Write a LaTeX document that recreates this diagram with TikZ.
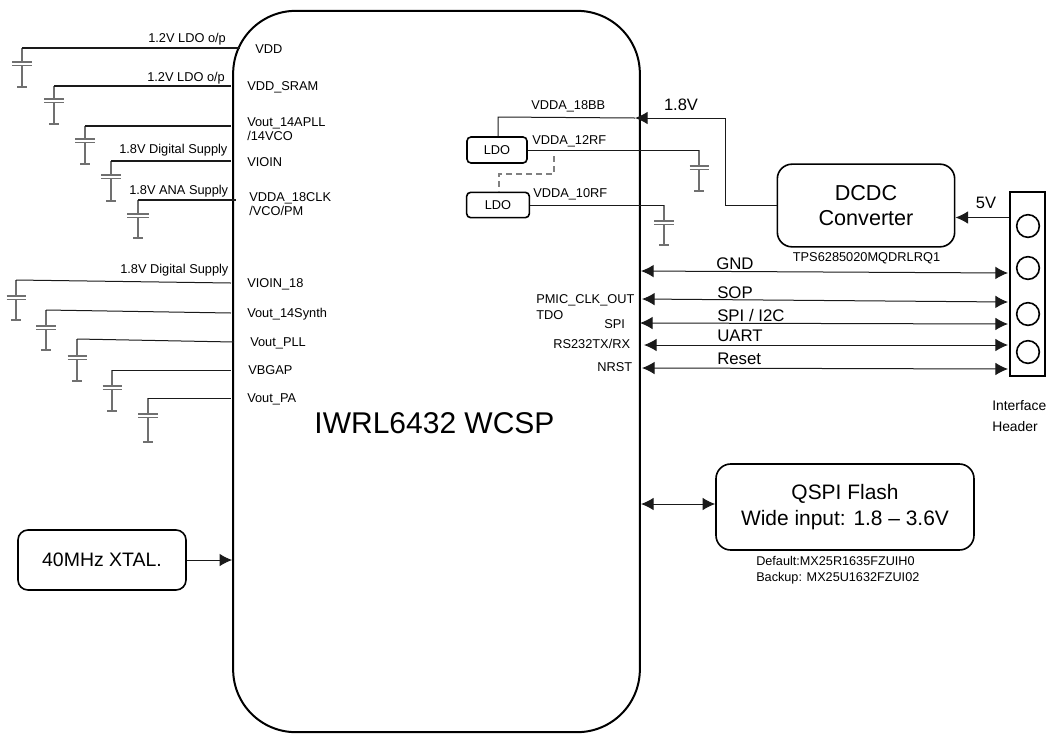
\documentclass[tikz,border=0pt]{standalone}
\usepackage{fontspec}
\setmainfont{Liberation Sans}
\usetikzlibrary{arrows.meta,calc,positioning}
\definecolor{Wire}{HTML}{1A1A1A}
\definecolor{Plate}{HTML}{707070}
\tikzset{
  wire/.style={draw=Wire, line width=0.75pt},
  heavywire/.style={draw=Wire, line width=1pt},
  link/.style={draw=Wire, line width=0.75pt, {Latex[length=9.5pt,width=9.5pt]}-{Latex[length=9.5pt,width=9.5pt]}},
  feed/.style={draw=Wire, line width=0.75pt, -{Latex[length=9.5pt,width=9.5pt]}},
  roundbox/.style={draw=black, line width=1.2pt, rounded corners=11pt, align=center, inner sep=0pt},
  ldobox/.style={draw=black, line width=1.2pt, rounded corners=3pt, font=\fontsize{9.6}{11}\selectfont, inner sep=0pt},
  pin/.style={font=\fontsize{9.6}{11}\selectfont, inner sep=0pt, anchor=west, align=left},
  buslabel/.style={font=\fontsize{12.6}{14}\selectfont, inner sep=0pt, anchor=west},
  hole/.style={circle, draw=black, line width=1.2pt, minimum size=17pt, inner sep=0pt}
}
% stem, two plates and ground of one decoupling cap: name, x, top y, plate y, ground y, half width
\newcommand{\decap}[6]{
  \coordinate (#1) at (#2,#3);
  \draw[draw=Plate, line width=0.8pt] (#2,#3) -- (#2,#4) (#2,#4+4) -- (#2,#5);
  \draw[draw=Plate, line width=1pt] (#2-#6,#4) -- (#2+#6,#4) (#2-#6,#4+3.5) -- (#2+#6,#4+3.5);
  \draw[draw=Plate, line width=0.8pt] (#2-5,#5) -- (#2+5,#5);
}
\begin{document}
\begin{tikzpicture}[>=Latex, x=0.75pt, y=-0.75pt]
    \useasboundingbox (0,0) rectangle (1047,733);
    \node[draw=black, line width=1.5pt, rounded corners=47pt, minimum width=305pt, minimum height=541pt, inner sep=0pt] (chip) at (436.5,371.5) {};
    \node[font=\fontsize{22.5}{26}\selectfont, inner sep=0pt] (chipname) at (434.5,423) {IWRL6432 WCSP};

    % supply pins on the left
    \coordinate (pinvdd) at (240,48);
    \coordinate (pinsram) at (231,86);
    \coordinate (pinapll) at (231,126);
    \coordinate (pinvioin) at (231,161);
    \coordinate (pinclk) at (236,200);
    \coordinate (pinio) at (231,283);
    \coordinate (pinsynth) at (231,313);
    \coordinate (pinpll) at (234,342);
    \coordinate (pinbg) at (231,370);
    \coordinate (pinpa) at (231,398);
    \decap{capvdd}{22}{48}{62}{87}{10}
    \decap{capsram}{54}{86}{99}{124}{10}
    \decap{capapll}{85}{126}{139}{164}{10}
    \decap{capvioin}{111}{161}{175}{201}{10}
    \decap{capclk}{138}{200}{214}{238}{11}
    \decap{capio}{16}{280}{296}{320}{9.5}
    \decap{capsynth}{46}{310}{326}{350}{10}
    \decap{cappll}{77}{339}{356}{381}{9.5}
    \decap{capbg}{112}{370}{386}{411}{9.5}
    \decap{cappa}{148}{398}{414}{442}{10}
    \draw[heavywire] (capvdd) -- (pinvdd);
    \draw[heavywire] (capsram) -- (pinsram);
    \draw[heavywire] (capapll) -- (pinapll);
    \draw[heavywire] (capvioin) -- (pinvioin);
    \draw[heavywire] (capclk) -- (pinclk);
    \draw[wire] (capio) -- (pinio);
    \draw[wire] (capsynth) -- (pinsynth);
    \draw[wire] (cappll) -- (pinpll);
    \draw[wire] (capbg) -- (pinbg);
    \draw[wire] (cappa) -- (pinpa);

    \node[pin] (lbldo1) at (148,39) {1.2V LDO o/p};
    \node[pin] (lbldo2) at (147,78) {1.2V LDO o/p};
    \node[pin] (lbdig1) at (119,150) {1.8V Digital Supply};
    \node[pin] (lbana) at (129,191) {1.8V ANA Supply};
    \node[pin] (lbdig2) at (120,270) {1.8V Digital Supply};
    \node[pin] (vdd) at (255,49) {VDD};
    \node[pin] (vddsram) at (247,87) {VDD\_SRAM};
    \node[pin] (apll) at (247,129) {Vout\_14APLL\\/14VCO};
    \node[pin] (vioin) at (247,162) {VIOIN};
    \node[pin] (clk) at (249,204) {VDDA\_18CLK\\/VCO/PM};
    \node[pin] (vioin18) at (247,284) {VIOIN\_18};
    \node[pin] (synth) at (247,314) {Vout\_14Synth};
    \node[pin] (pll) at (250,343) {Vout\_PLL};
    \node[pin] (vbgap) at (248,370) {VBGAP};
    \node[pin] (vpa) at (247,399) {Vout\_PA};

    % LDOs inside the chip
    \node[ldobox, minimum width=45pt, minimum height=19.5pt] (ldoa) at (497,150) {LDO};
    \node[ldobox, minimum width=47pt, minimum height=19pt] (ldob) at (498,205) {LDO};
    \node[pin] (lb18bb) at (531,106) {VDDA\_18BB};
    \node[pin] (lb12rf) at (532,141) {VDDA\_12RF};
    \node[pin] (lb10rf) at (533,194) {VDDA\_10RF};
    \decap{capa}{699}{150}{166}{191}{9.5}
    \decap{capb}{664}{205}{221}{245}{10}
    \draw[wire] (ldoa.east) -- (capa);
    \draw[wire] (ldob.east) -- (capb);
    \draw[draw=gray, line width=0.8pt, dash pattern=on 4.5pt off 3pt] (554,156) -- (554,174) -| (ldob.north -| 499,0);

    % DCDC and header
    \node[roundbox, minimum width=133pt, minimum height=62pt, font=\fontsize{16.2}{19}\selectfont] (dcdc) at (866,205.5) {DCDC\\Converter};
    \node[inner sep=0pt, font=\fontsize{9.6}{11}\selectfont] (tps) at (866.5,258.5) {TPS6285020MQDRLRQ1};
    \node[draw=black, line width=1.5pt, minimum width=26pt, minimum height=138pt, inner sep=0pt] (header) at (1027.5,284) {};
    \node[hole] (h1) at (1028,226) {};
    \node[hole] (h2) at (1028,268) {};
    \node[hole] (h3) at (1028,314) {};
    \node[hole] (h4) at (1028,352) {};
    \node[pin, font=\fontsize{10.4}{15.5}\selectfont] (hdrname) at (992,416) {Interface\\Header};
    \coordinate (vin) at (header.west |- 0,217.5);
    \draw[feed] (vin) -- (vin -| dcdc.east);
    \node[inner sep=0pt, font=\fontsize{12.4}{14}\selectfont] (lb5v) at (986,203) {5V};
    \coordinate (bend) at (725,118);
    \coordinate (railin) at (635,118);
    \draw[wire] (dcdc.west) -| (bend);
    \draw[feed] (bend) -- (railin);
    \draw[wire] (railin) -- (498,117) -- (ldoa.north -| 498,0);
    \node[inner sep=0pt, font=\fontsize{12.4}{14}\selectfont] (lb18) at (681,105) {1.8V};

    % buses to header
    \coordinate (gnda) at (641,271);  \coordinate (gndb) at (1008,273);
    \coordinate (sopa) at (642,299);  \coordinate (sopb) at (1008,302);
    \coordinate (spia) at (640,323);  \coordinate (spib) at (1008,324);
    \coordinate (urta) at (644,345);  \coordinate (urtb) at (1008,345);
    \coordinate (rsta) at (642,368);  \coordinate (rstb) at (1008,369);
    \draw[link] (gnda) -- (gndb);
    \draw[link] (sopa) -- (sopb);
    \draw[link] (spia) -- (spib);
    \draw[link] (urta) -- (urtb);
    \draw[link] (rsta) -- (rstb);
    \node[buslabel] (lbgnd) at (716,264) {GND};
    \node[buslabel] (lbsop) at (717,293) {SOP};
    \node[buslabel] (lbspi) at (717,315) {SPI / I2C};
    \node[buslabel] (lbuart) at (717,336) {UART};
    \node[buslabel] (lbrst) at (717,359) {Reset};
    \node[pin] (pmic) at (536,300) {PMIC\_CLK\_OUT};
    \node[pin] (tdo) at (536,315) {TDO};
    \node[pin] (spi) at (604,324) {SPI};
    \node[pin] (rs232) at (553,344) {RS232TX/RX};
    \node[pin] (nrst) at (597,367) {NRST};

    % flash and crystal
    \node[roundbox, minimum width=193.5pt, minimum height=64.5pt, font=\fontsize{15.7}{19.5}\selectfont] (flash) at (845,507) {QSPI Flash\\Wide input: 1.8 -- 3.6V};
    \node[pin, font=\fontsize{9.5}{12}\selectfont] (flashparts) at (756,570) {Default:MX25R1635FZUIH0\\Backup: MX25U1632FZUI02};
    \node[roundbox, rounded corners=7.5pt, minimum width=126pt, minimum height=45pt, font=\fontsize{14.6}{17}\selectfont] (xtal) at (102,560) {40MHz XTAL.};
    \coordinate (flashpin) at (641,504);
    \draw[link] (flashpin) -- (flashpin -| flash.west);
    \draw[feed] (xtal.east) -- (xtal.east -| chip.west);
  \end{tikzpicture}
\end{document}
